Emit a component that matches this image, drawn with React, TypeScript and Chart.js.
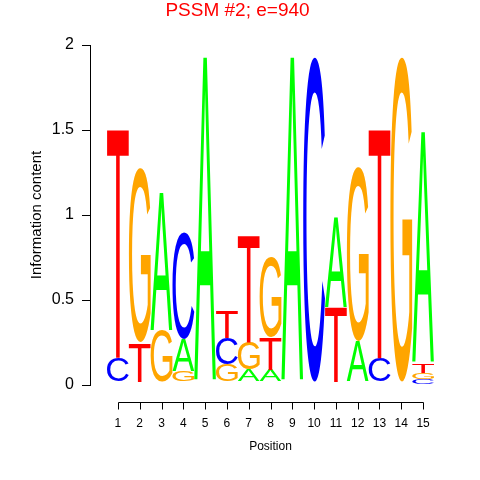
import React, { useEffect, useRef } from "react";
import { Chart, registerables } from "chart.js";

Chart.register(...registerables);

const FONT = "'Liberation Sans', Arial, Helvetica, sans-serif";

const chartTitle = "PSSM #2; e=940";
const yAxisTitle = "Information content";
const xAxisTitle = "Position";

const positions = [1, 2, 3, 4, 5, 6, 7, 8, 9, 10, 11, 12, 13, 14, 15];
const heightA = [0, 0, 0.81, 0.185, 1.93, 0, 0.09, 0.09, 1.93, 0, 0.53, 0.255, 0, 0, 1.362];
const heightC = [0.16, 0, 0, 0.625, 0, 0.155, 0, 0, 0, 1.93, 0, 0, 0.157, 0, 0.035];
const heightG = [0, 1.025, 0.32, 0.08, 0, 0.12, 0.165, 0.475, 0, 0, 0, 1.025, 0, 1.93, 0.038];
const heightT = [1.35, 0.25, 0, 0, 0, 0.16, 0.633, 0.19, 0, 0, 0.457, 0, 1.353, 0, 0.055];
const yTickLabels = ["0", "0.5", "1", "1.5", "2"];

const letterColors: Record<string, string> = {
  A: "#00FF00",
  C: "#0000FF",
  G: "#FFA500",
  T: "#FF0000",
};

type Entry = { l: string; h: number };

function buildStacks(): Entry[][] {
  return positions.map((_, i) => {
    const e: Entry[] = [
      { l: "A", h: heightA[i] },
      { l: "C", h: heightC[i] },
      { l: "G", h: heightG[i] },
      { l: "T", h: heightT[i] },
    ].filter((d) => d.h > 0);
    e.sort((a, b) => a.h - b.h);
    return e;
  });
}

const glyphCache: Record<string, { left: number; right: number; asc: number; desc: number }> = {};

function drawGlyph(ctx: CanvasRenderingContext2D, letter: string, left: number, top: number, w: number, h: number) {
  ctx.save();
  ctx.font = `200px ${FONT}`;
  let m = glyphCache[letter];
  if (!m) {
    const tm = ctx.measureText(letter);
    m = {
      left: tm.actualBoundingBoxLeft,
      right: tm.actualBoundingBoxRight,
      asc: tm.actualBoundingBoxAscent,
      desc: tm.actualBoundingBoxDescent,
    };
    glyphCache[letter] = m;
  }
  const gw = m.left + m.right;
  const gh = m.asc + m.desc;
  ctx.translate(left, top);
  ctx.scale(w / gw, h / gh);
  ctx.fillStyle = letterColors[letter];
  ctx.textAlign = "left";
  ctx.textBaseline = "alphabetic";
  ctx.fillText(letter, m.left, m.asc);
  ctx.restore();
}

const BOTTOM_GAP_PX = 3;

const logoPlugin = {
  id: "logoLetters",
  afterDatasetsDraw(chart: any) {
    const ctx = chart.ctx as CanvasRenderingContext2D;
    chart.data.datasets.forEach((ds: any, di: number) => {
      const meta = chart.getDatasetMeta(di);
      meta.data.forEach((el: any, j: number) => {
        const letter = ds.letters[j];
        if (!letter) return;
        const { x, y, base, width } = el.getProps(["x", "y", "base", "width"], true);
        const top = Math.min(y, base);
        let bottom = Math.max(y, base);
        if (di === 0 && bottom - top > 10) bottom -= BOTTOM_GAP_PX;
        const h = bottom - top;
        if (h < 0.3) return;
        drawGlyph(ctx, letter, x - width / 2, top, width, h);
      });
    });
  },
};

const xAxisPlugin = {
  id: "offsetXAxis",
  afterDraw(chart: any) {
    const ctx = chart.ctx as CanvasRenderingContext2D;
    const xs = chart.scales.x;
    const area = chart.chartArea;
    const yLine = Math.round(area.bottom + 17) + 0.5;
    const x0 = xs.getPixelForValue(positions[0]);
    const x1 = xs.getPixelForValue(positions[positions.length - 1]);
    ctx.save();
    ctx.strokeStyle = "#000";
    ctx.lineWidth = 1;
    ctx.beginPath();
    ctx.moveTo(Math.round(x0) + 0.5, yLine);
    ctx.lineTo(Math.round(x1) + 0.5, yLine);
    positions.forEach((p) => {
      const px = Math.round(xs.getPixelForValue(p)) + 0.5;
      ctx.moveTo(px, yLine);
      ctx.lineTo(px, yLine + 7);
    });
    ctx.stroke();
    ctx.fillStyle = "#000";
    ctx.font = `12px ${FONT}`;
    ctx.textAlign = "center";
    ctx.textBaseline = "middle";
    positions.forEach((p) => {
      ctx.fillText(String(p), xs.getPixelForValue(p), yLine + 21);
    });
    ctx.font = `12px ${FONT}`;
    ctx.fillText(xAxisTitle, (area.left + area.right) / 2, yLine + 44);
    ctx.restore();
  },
};

export default function App() {
  const ref = useRef<HTMLCanvasElement | null>(null);

  useEffect(() => {
    if (!ref.current) return;
    const stacks = buildStacks();
    const datasets = [0, 1, 2, 3].map((r) => ({
      label: `rank${r}`,
      data: positions.map((p, i) => ({ x: p, y: stacks[i][r] ? stacks[i][r].h : 0 })),
      letters: positions.map((_, i) => (stacks[i][r] ? stacks[i][r].l : "")),
      backgroundColor: "rgba(0,0,0,0)",
      borderWidth: 0,
      barPercentage: 1,
      categoryPercentage: 1,
    }));

    const chart = new Chart(ref.current, {
      type: "bar",
      data: { datasets: datasets as any },
      plugins: [logoPlugin, xAxisPlugin],
      options: {
        animation: false,
        responsive: false,
        layout: { padding: { left: 24, right: 29, top: 0, bottom: 95 } },
        plugins: {
          legend: { display: false },
          tooltip: { enabled: false },
          title: {
            display: true,
            text: chartTitle,
            color: "#FF0000",
            font: { family: FONT, size: 19, weight: "normal" },
            padding: { top: -1, bottom: 23.2 },
          },
        },
        scales: {
          x: {
            type: "linear",
            min: -0.28,
            max: 16.28,
            display: false,
            offset: false,
            stacked: true,
          },
          y: {
            type: "linear",
            min: 0,
            max: 2,
            stacked: true,
            position: "left",
            afterFit: (s: any) => {
              s.width = 66;
            },
            ticks: {
              stepSize: 0.5,
              color: "#000",
              padding: 8,
              font: { family: FONT, size: 16 },
              callback: (_v: any, i: number) => yTickLabels[i],
            },
            grid: {
              drawOnChartArea: false,
              drawTicks: true,
              tickLength: 8,
              color: "#000",
            },
            border: { display: true, color: "#000" },
            title: {
              display: true,
              text: yAxisTitle,
              color: "#000",
              font: { family: FONT, size: 15 },
              padding: { top: 4, bottom: 4 },
            },
          },
        },
      } as any,
    });
    return () => chart.destroy();
  }, []);

  return (
    <div style={{ position: "absolute", left: 0, top: 0, width: 480, height: 480, background: "#fff" }}>
      <canvas ref={ref} width={480} height={480} />
    </div>
  );
}
